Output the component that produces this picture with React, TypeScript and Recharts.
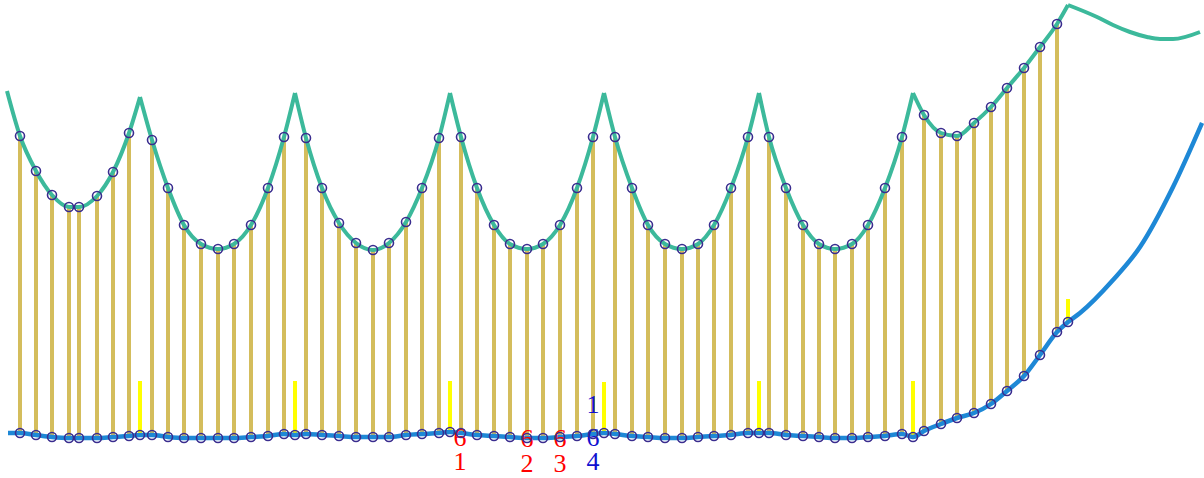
import React from 'react';
import { ComposedChart, Line, Scatter, XAxis, YAxis } from 'recharts';

// Station positions along the track (x) and the two profile heights at each station
const stationX = [
  20, 36, 52, 69, 79, 97, 113, 129,
  152, 168, 184, 201, 218, 234, 251, 268, 284,
  306, 322, 339, 356, 373, 389, 406, 422, 439,
  461, 477, 494, 510, 527, 543, 560, 577, 593,
  615, 632, 648, 665, 682, 698, 714, 731, 748,
  769, 786, 803, 819, 835, 852, 868, 885, 902,
  924, 941, 957, 974, 991, 1007, 1024, 1040, 1057,
];
const pitchTop = [
  342, 307, 283, 271, 271, 282, 306, 345,
  338, 290, 253, 234, 229, 234, 253, 290, 341,
  340, 290, 255, 235, 228, 235, 256, 290, 340,
  341, 290, 253, 234, 229, 234, 253, 290, 341,
  341, 290, 253, 234, 229, 234, 253, 290, 341,
  341, 290, 253, 234, 229, 234, 253, 290, 341,
  363, 345, 342, 355, 371, 390, 410, 431, 454,
];
const baseLine = [
  45, 43, 41, 40, 40, 40, 41, 42,
  43, 41, 40, 40, 40, 40, 41, 42, 44,
  44, 43, 42, 41, 41, 41, 43, 44, 45,
  45, 43, 42, 41, 40, 40, 41, 42, 44,
  44, 42, 41, 40, 40, 41, 42, 43, 45,
  45, 43, 42, 41, 40, 40, 41, 42, 44,
  47, 54, 60, 65, 74, 87, 102, 123, 146,
];

// Cusps (peaks of the upper profile) and the short marker bars below them
const cuspX = [140, 295, 450, 604, 759, 913, 1068];
const cuspTop = [381, 385, 385, 385, 385, 385, 473];
const cuspBase = [43, 43, 46, 45, 45, 41, 156];
const markerTop = [97, 97, 97, 96, 97, 97, 179];

// Ends of the curves
const topStart = { x: 7, y: 387 };
const topTailX = [1097, 1113, 1130, 1147, 1160, 1173, 1200];
const topTailY = [461, 453, 446, 441, 439, 439, 446];
const baseStart = { x: 8, y: 45 };
const baseTailX = [1080, 1113, 1140, 1173, 1202];
const baseTailY = [165, 198, 231, 291, 355];

// Annotation labels
const contactX = [460, 527, 560, 593];
const contactNum = ['1', '2', '3', '4'];
const contactColor = ['#ff0000', '#ff0000', '#ff0000', '#1010d0'];
const sixY = [41, 40, 40, 41];
const numY = [17, 15, 15, 17];
const extraLabel = { x: 593, y: 74, text: '1', color: '#1010d0' };

const W = 1204;
const H = 478;

const GOLD = '#d4bd5c';
const TEAL = '#3cb99b';
const BLUE = '#1e88d6';
const NAVY = '#3a2d8f';

// Build upper profile segments split at cusps
const topPoints = stationX.map((x, i) => ({ x, y: pitchTop[i] }));
const topSegments: { x: number; y: number }[][] = [];
{
  let prevX = -Infinity;
  let prevCusp = topStart;
  cuspX.forEach((cx, k) => {
    const seg = [prevCusp, ...topPoints.filter((p) => p.x > prevX && p.x < cx)];
    const c = { x: cx, y: cuspTop[k] };
    seg.push(c);
    topSegments.push(seg);
    prevX = cx;
    prevCusp = c;
  });
  topSegments.push([prevCusp, ...topTailX.map((x, i) => ({ x, y: topTailY[i] }))]);
}

const basePoints = [
  baseStart,
  ...stationX.map((x, i) => ({ x, y: baseLine[i] })),
  ...cuspX.map((x, i) => ({ x, y: cuspBase[i] })),
  ...baseTailX.map((x, i) => ({ x, y: baseTailY[i] })),
].sort((a, b) => a.x - b.x);

const circlePoints = [
  ...stationX.map((x, i) => ({ x, y: pitchTop[i] })),
  ...stationX.map((x, i) => ({ x, y: baseLine[i] })),
  ...cuspX.map((x, i) => ({ x, y: cuspBase[i] })),
];

const labelPoints = [
  ...contactX.map((x, i) => ({ x, y: sixY[i], t: '6', c: contactColor[i] })),
  ...contactX.map((x, i) => ({ x, y: numY[i], t: contactNum[i], c: contactColor[i] })),
  { x: extraLabel.x, y: extraLabel.y, t: extraLabel.text, c: extraLabel.color },
];

const Ring = (props: any) => (
  <circle cx={props.cx} cy={props.cy} r={4.5} fill="none" stroke={NAVY} strokeWidth={1.6} />
);

const TextMark = (props: any) => (
  <text
    x={props.cx}
    y={props.cy}
    textAnchor="middle"
    dominantBaseline="central"
    fill={props.payload.c}
    fontSize={26}
    fontFamily="Liberation Serif, Times New Roman, serif"
  >
    {props.payload.t}
  </text>
);

export default function App() {
  return (
    <div style={{ position: 'absolute', left: 0, top: 0, width: W, height: H, background: '#fff' }}>
      <ComposedChart width={W} height={H} margin={{ top: 0, right: 0, bottom: 0, left: 0 }}>
        <XAxis type="number" dataKey="x" domain={[0, W]} hide allowDataOverflow />
        <YAxis type="number" dataKey="y" domain={[0, H]} hide allowDataOverflow />
        {stationX.map((x, i) => (
          <Line
            key={'g' + i}
            data={[{ x, y: baseLine[i] }, { x, y: pitchTop[i] }]}
            dataKey="y"
            stroke={GOLD}
            strokeWidth={4}
            dot={false}
            activeDot={false}
            type="linear"
            isAnimationActive={false}
          />
        ))}
        {cuspX.map((x, i) => (
          <Line
            key={'y' + i}
            data={[{ x, y: cuspBase[i] }, { x, y: markerTop[i] }]}
            dataKey="y"
            stroke="#ffff00"
            strokeWidth={4}
            dot={false}
            activeDot={false}
            type="linear"
            isAnimationActive={false}
          />
        ))}
        <Scatter data={labelPoints} dataKey="y" shape={TextMark} isAnimationActive={false} />
        <Line
          data={basePoints}
          dataKey="y"
          stroke={BLUE}
          strokeWidth={4.5}
          dot={false}
          activeDot={false}
          type="monotone"
          isAnimationActive={false}
        />
        {topSegments.map((seg, i) => (
          <Line
            key={'t' + i}
            data={seg}
            dataKey="y"
            stroke={TEAL}
            strokeWidth={4}
            dot={false}
            activeDot={false}
            type="monotone"
            isAnimationActive={false}
          />
        ))}
        <Scatter data={circlePoints} dataKey="y" shape={Ring} isAnimationActive={false} />
      </ComposedChart>
    </div>
  );
}
